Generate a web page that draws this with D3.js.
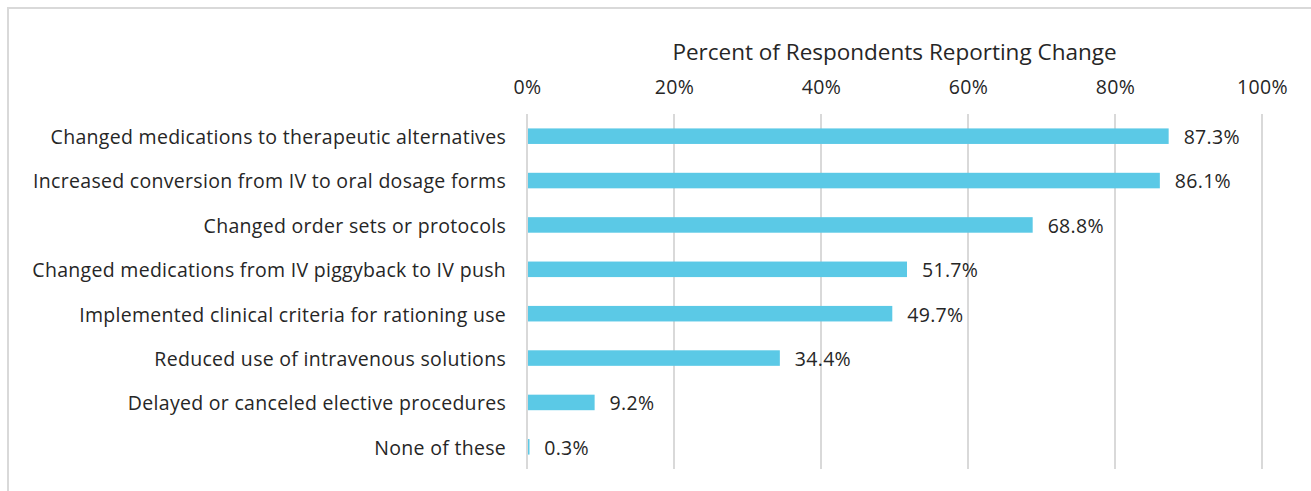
<!DOCTYPE html>
<html lang="en">
<head>
    <meta charset="UTF-8">
    <title>Percent of Respondents Reporting Change</title>
    <script src="https://d3js.org/d3.v7.min.js"></script>
    <style>
        body {
            margin: 0;
            background: #ffffff;
            font-family: "Open Sans", Lato, sans-serif;
        }
        .frame { fill: none; stroke: #d9d9d9; stroke-width: 2; }
        .grid line { stroke: #d9d9d9; stroke-width: 2; }
        .label { fill: #262626; font-size: 19.5px; letter-spacing: 0.3px; }
        .title { fill: #262626; font-size: 22.5px; }
    </style>
</head>
<body>
    <div id="chart"></div>
    <script>
        const categories = [
            "Changed medications to therapeutic alternatives",
            "Increased conversion from IV to oral dosage forms",
            "Changed order sets or protocols",
            "Changed medications from IV piggyback to IV push",
            "Implemented clinical criteria for rationing use",
            "Reduced use of intravenous solutions",
            "Delayed or canceled elective procedures",
            "None of these"
        ];
        const percents = [87.3, 86.1, 68.8, 51.7, 49.7, 34.4, 9.2, 0.3];
        const tickValues = [0, 20, 40, 60, 80, 100];
        const axisTitle = "Percent of Respondents Reporting Change";

        const width = 1311, height = 491;
        const plotLeft = 527, plotRight = 1262, plotTop = 114, plotBottom = 469;

        const svg = d3.select("#chart").append("svg")
            .attr("width", width)
            .attr("height", height);

        // outer frame (only top and left edges show in the original)
        svg.append("path")
            .attr("class", "frame")
            .attr("d", `M8,${height} L8,8 L${width},8`);

        const x = d3.scaleLinear().domain([0, 100]).range([plotLeft, plotRight]);
        const y = d3.scaleBand().domain(categories).range([plotTop, plotBottom]).paddingInner(0.65).paddingOuter(0.325);

        // gridlines
        svg.append("g")
            .attr("class", "grid")
            .selectAll("line")
            .data(tickValues)
            .enter().append("line")
            .attr("x1", d => x(d))
            .attr("x2", d => x(d))
            .attr("y1", plotTop)
            .attr("y2", plotBottom);

        // top axis labels
        const axis = svg.append("g")
            .attr("transform", `translate(0,${plotTop})`)
            .call(d3.axisTop(x).tickValues(tickValues).tickFormat(d => d + "%").tickSize(0).tickPadding(20));
        axis.select(".domain").remove();
        axis.selectAll("text")
            .attr("class", "label")
            .attr("fill", null);
        axis.attr("font-family", null).attr("font-size", null);

        svg.append("text")
            .attr("class", "title")
            .attr("x", (plotLeft + plotRight) / 2)
            .attr("y", 60)
            .attr("text-anchor", "middle")
            .text(axisTitle);

        // bars
        svg.append("g")
            .selectAll("rect")
            .data(percents)
            .enter().append("rect")
            .attr("x", x(0) + 1)
            .attr("y", (d, i) => y(categories[i]))
            .attr("width", d => Math.max(x(d) - x(0) - 1, 1.5))
            .attr("height", y.bandwidth())
            .attr("fill", "#5bc9e6");

        // category labels
        svg.append("g")
            .selectAll("text")
            .data(categories)
            .enter().append("text")
            .attr("class", "label")
            .attr("x", plotLeft - 21)
            .attr("y", d => y(d) + y.bandwidth() / 2 + 1)
            .attr("dy", "0.35em")
            .attr("text-anchor", "end")
            .text(d => d);

        // value labels
        svg.append("g")
            .selectAll("text")
            .data(percents)
            .enter().append("text")
            .attr("class", "label")
            .attr("x", d => x(d) + 15)
            .attr("y", (d, i) => y(categories[i]) + y.bandwidth() / 2 + 1)
            .attr("dy", "0.35em")
            .text(d => d.toFixed(1) + "%");
    </script>
</body>
</html>
